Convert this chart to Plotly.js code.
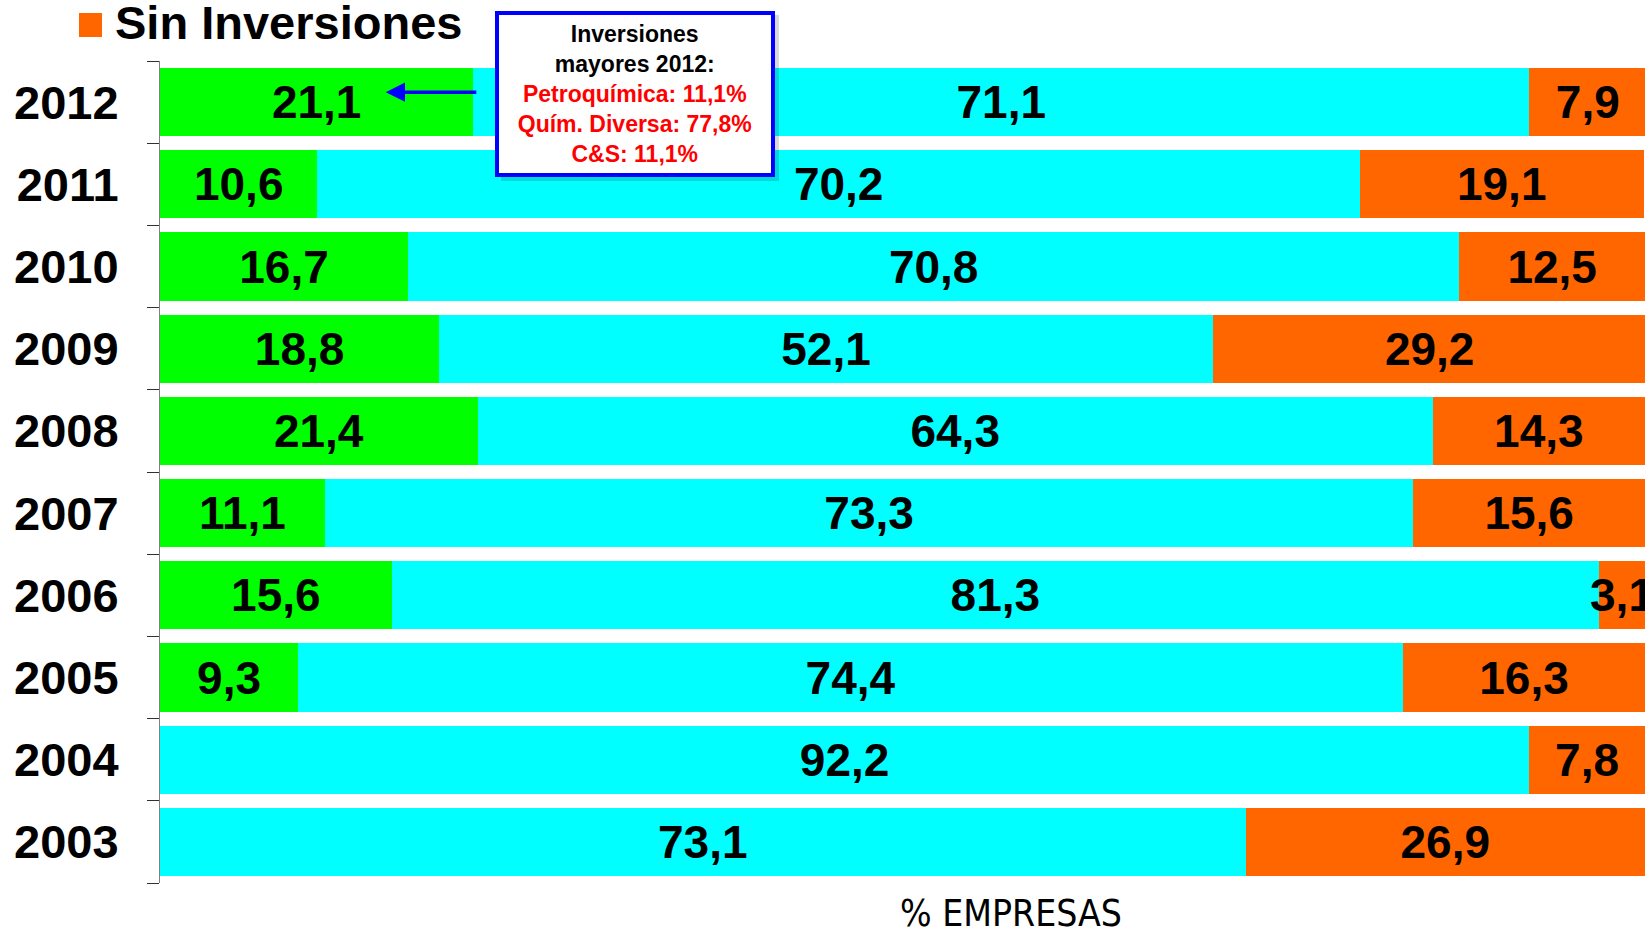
<!DOCTYPE html>
<html>
<head>
<meta charset="utf-8">
<script src="https://cdn.plot.ly/plotly-3.0.1.min.js"></script>
<style>
	body {margin: 0; background: #fff;}
	#chart {width: 1647px; height: 932px;}
</style>
</head>
<body>
<div id="chart"></div>
<script>
let years = ["2003", "2004", "2005", "2006", "2007", "2008", "2009", "2010", "2011", "2012"]
let greenValues = [0, 0, 9.3, 15.6, 11.1, 21.4, 18.8, 16.7, 10.6, 21.1]
let cyanValues = [73.1, 92.2, 74.4, 81.3, 73.3, 64.3, 52.1, 70.8, 70.2, 71.1]
let sinInversiones = [26.9, 7.8, 16.3, 3.1, 15.6, 14.3, 29.2, 12.5, 19.1, 7.9]

let boxLines = ["Inversiones", "mayores 2012:"]
let boxRedLines = ["Petroquímica: 11,1%", "Quím. Diversa: 77,8%", "C&S: 11,1%"]

let boldFont = "Liberation Sans, Arial, sans-serif"
let narrowFont = "Liberation Sans Narrow, DejaVu Sans Condensed, Arial Narrow, sans-serif"

//Comma decimals, and no label for empty segments.
function labels(values) {
	return values.map((v) => {return v > 0 ? v.toFixed(1).replace(".", ",") : ""})
}

function barTrace(values, color, name) {
	return {
		type: "bar",
		orientation: "h",
		y: years,
		x: values,
		name: name,
		text: labels(values),
		textposition: "inside",
		insidetextanchor: "middle",
		textangle: 0,
		constraintext: "none",
		textfont: {family: boldFont, size: 46, color: "#000", weight: "bold"},
		marker: {color: color, line: {width: 0}},
		hoverinfo: "x+y",
		showlegend: false
	}
}

let data = [
	barTrace(greenValues, "#00FF00", "Con Inversiones"),
	barTrace(cyanValues, "#00FFFF", "Inversiones"),
	barTrace(sinInversiones, "#FF6600", "Sin Inversiones")
]

//widest line gets a little padding so the box is as wide as the original
let pad = "&nbsp;&nbsp;"
let boxText = boxLines.map((l) => {return "<b>" + l + "</b>"})
	.concat(boxRedLines.map((l, i) => {
		let t = i === 1 ? pad + l + pad : l
		return "<b><span style='color:#FF0000'>" + t + "</span></b>"
	}))
	.join("<br>")

let layout = {
	width: 1647,
	height: 932,
	margin: {l: 160, r: 2, t: 61, b: 49, pad: 0},
	paper_bgcolor: "#fff",
	plot_bgcolor: "#fff",
	barmode: "stack",
	bargap: 0.17,
	showlegend: false,
	xaxis: {
		range: [0, 100],
		visible: false,
		fixedrange: true
	},
	yaxis: {
		type: "category",
		categoryorder: "array",
		categoryarray: years,
		showline: true,
		linecolor: "#808080",
		linewidth: 1,
		ticks: "outside",
		tickson: "boundaries",
		ticklen: 12,
		tickcolor: "#303030",
		tickwidth: 1,
		ticklabelstandoff: 31,
		tickfont: {family: boldFont, size: 47, color: "#000", weight: "bold"},
		showgrid: false,
		zeroline: false,
		fixedrange: true
	},
	shapes: [
		//soft shadow of the note box
		{
			type: "rect",
			xref: "paper", yref: "paper",
			x0: (501 - 160) / 1485, x1: (779 - 160) / 1485,
			y0: (883 - 15) / 822, y1: (883 - 181) / 822,
			fillcolor: "rgba(0,0,0,0.15)",
			line: {width: 0},
			layer: "above"
		},
		//legend swatch
		{
			type: "rect",
			xref: "paper", yref: "paper",
			x0: (79 - 160) / 1485, x1: (102 - 160) / 1485,
			y0: (883 - 13) / 822, y1: (883 - 37) / 822,
			fillcolor: "#FF6600",
			line: {width: 0}
		}
	],
	annotations: [
		{
			xref: "paper", yref: "paper",
			x: (113 - 160) / 1485, y: (883 - 23) / 822,
			xanchor: "left", yanchor: "middle",
			text: "<b>Sin Inversiones</b>",
			showarrow: false,
			font: {family: boldFont, size: 47, color: "#000"}
		},
		{
			xref: "x", yref: "y", axref: "x", ayref: "y",
			x: 15.2, y: 9.12,
			ax: 21.4, ay: 9.12,
			text: "",
			showarrow: true,
			arrowhead: 2,
			arrowsize: 1.1,
			arrowwidth: 3.5,
			arrowcolor: "#0000FF"
		},
		{
			xref: "paper", yref: "paper",
			x: (635 - 160) / 1485, y: (883 - 94) / 822,
			xanchor: "center", yanchor: "middle",
			text: boxText,
			showarrow: false,
			align: "center",
			bgcolor: "#fff",
			bordercolor: "#0000FF",
			borderwidth: 4,
			borderpad: 6,
			font: {family: boldFont, size: 23, color: "#000"}
		},
		{
			xref: "paper", yref: "paper",
			x: (1011 - 160) / 1485, y: -0.008,
			xanchor: "center", yanchor: "top",
			text: "% EMPRESAS",
			showarrow: false,
			font: {family: narrowFont, size: 37, color: "#000"}
		}
	]
}

Plotly.newPlot("chart", data, layout, {displayModeBar: false, staticPlot: true})
</script>
</body>
</html>
